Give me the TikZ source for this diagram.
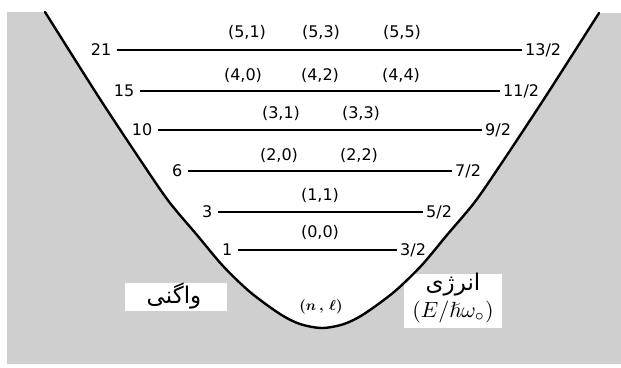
\documentclass[tikz,border=0pt]{standalone}
\usepackage{fontspec}
\usepackage{amssymb}
\usepackage{graphicx}
\setsansfont{DejaVu Sans}
\newfontfamily\arabicfont[Script=Arabic]{DejaVu Sans}
\TeXXeTstate=1
\begin{document}
\begin{tikzpicture}[x=1pt,y=-1pt,
  lvl/.style={line width=2pt},
  deg/.style={font=\sffamily\fontsize{16}{16}\selectfont, inner ysep=1pt, inner xsep=5.5pt, anchor=east},
  en/.style={font=\sffamily\fontsize{16}{16}\selectfont, inner ysep=1pt, inner xsep=3pt, anchor=west},
  qn/.style={font=\sffamily\fontsize{16}{16}\selectfont, inner sep=0pt},
  well/.style={line width=2.4pt, line join=round, line cap=round},
  shade/.style={fill=black!19},
  labbox/.style={fill=white, inner sep=0pt}]
\useasboundingbox (0,0) rectangle (621,367);

% stippled background outside the well
\path[shade] (7,12) -- plot[smooth] coordinates {(45,12) (100,99) (147,170) (170,203) (197,235) (223,266) (250,292) (280,314) (300,324) (322,328) (344,324) (364,314) (394,292) (421,266) (447,235) (474,203) (497,170) (544,99) (599,13)} -- (621,13) -- (621,364) -- (7,364) -- cycle;

% label boxes
\node[labbox, minimum width=102pt, minimum height=28pt] (degbox) at (176,296.5) {};
\node[labbox, minimum width=98pt, minimum height=54pt] (enbox) at (453,301) {};

% the well
\draw[well] plot[smooth] coordinates {(45,12) (100,99) (147,170) (170,203) (197,235) (223,266) (250,292) (280,314) (300,324) (322,328) (344,324) (364,314) (394,292) (421,266) (447,235) (474,203) (497,170) (544,99) (599,13)};

% levels
\node[deg] (d21) at (117,50) {21};  \node[en] (e21) at (522,50) {13/2};
\node[deg] (d15) at (140,91) {15};  \node[en] (e15) at (500,91) {11/2};
\node[deg] (d10) at (158,130) {10}; \node[en] (e10) at (482,130) {9/2};
\node[deg] (d6)  at (188,171) {6};  \node[en] (e6)  at (452,171) {7/2};
\node[deg] (d3)  at (218,212) {3};  \node[en] (e3)  at (423,212) {5/2};
\node[deg] (d1)  at (238,250) {1};  \node[en] (e1)  at (397,250) {3/2};
\foreach \k in {21,15,10,6,3,1} \draw[lvl] (d\k.east) -- (e\k.west);

% quantum numbers
\node[qn] (q51) at (247,32) {(5,1)};
\node[qn] (q53) at (321,32) {(5,3)};
\node[qn] (q55) at (402,32) {(5,5)};
\node[qn] (q40) at (243,75) {(4,0)};
\node[qn] (q42) at (320,75) {(4,2)};
\node[qn] (q44) at (401,75) {(4,4)};
\node[qn] (q31) at (281,113) {(3,1)};
\node[qn] (q33) at (361,113) {(3,3)};
\node[qn] (q20) at (279,155) {(2,0)};
\node[qn] (q22) at (359,155) {(2,2)};
\node[qn] (q11) at (320,195) {(1,1)};
\node[qn] (q00) at (320,232) {(0,0)};
\node[inner sep=0pt] (nl) at (321,307) {\scalebox{1.45}{\boldmath$(n\,,\,\ell)$}};

% axis labels
\node[inner sep=0pt, font=\arabicfont\fontsize{23}{23}\selectfont] (degtxt) at (174,296) {\beginR واگنی\endR};
\node[inner sep=0pt, font=\arabicfont\fontsize{23}{23}\selectfont] (entxt) at (453,285) {\beginR انرژی\endR};
\node[inner sep=0pt] (enunit) at (453,312) {\scalebox{2.2}{$(E/\hslash\omega_\circ)$}};
\end{tikzpicture}
\end{document}
